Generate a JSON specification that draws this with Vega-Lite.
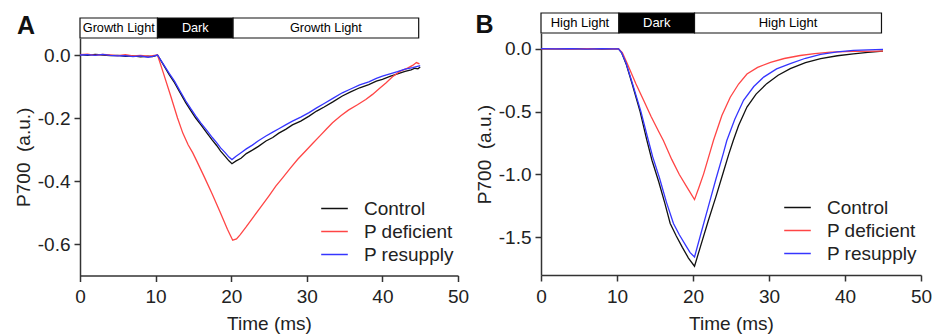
{
  "$schema": "https://vega.github.io/schema/vega-lite/v6.json",
  "padding": {"left": 14, "top": 12, "right": 0, "bottom": 0},
  "background": "white",
  "config": {
    "view": {"stroke": null},
    "font": "Liberation Sans",
    "axis": {
      "labelFont": "Liberation Sans", "labelFontSize": 19, "labelColor": "#222",
      "titleFont": "Liberation Sans", "titleFontSize": 19, "titleFontWeight": "normal", "titleColor": "#222",
      "domainColor": "#333", "domainWidth": 1.5, "tickColor": "#333", "tickWidth": 1.5, "tickSize": 6,
      "grid": false, "labelFlush": false
    },
    "title": {"font": "Liberation Sans", "fontSize": 25, "fontWeight": "bold", "color": "#111"}
  },
  "datasets": {
    "barsA": [
      {"start": 0, "end": 10.25, "label": "Growth Light", "phase": "light"},
      {"start": 10.25, "end": 20.25, "label": "Dark", "phase": "dark"},
      {"start": 20.25, "end": 44.8, "label": "Growth Light", "phase": "light"}
    ],
    "barsB": [
      {"start": 0, "end": 10.25, "label": "High Light", "phase": "light"},
      {"start": 10.25, "end": 20.2, "label": "Dark", "phase": "dark"},
      {"start": 20.2, "end": 44.8, "label": "High Light", "phase": "light"}
    ],
    "a": [
      {"s": "Control", "t": 0, "v": 0.001}, {"s": "Control", "t": 1, "v": -0.001}, {"s": "Control", "t": 2, "v": 0.002}, {"s": "Control", "t": 3, "v": 0.0}, {"s": "Control", "t": 4, "v": -0.002}, {"s": "Control", "t": 5, "v": -0.001}, {"s": "Control", "t": 6, "v": -0.004}, {"s": "Control", "t": 7, "v": -0.003}, {"s": "Control", "t": 8, "v": -0.006}, {"s": "Control", "t": 9, "v": -0.004}, {"s": "Control", "t": 9.6, "v": -0.005}, {"s": "Control", "t": 10.25, "v": 0.0}, {"s": "Control", "t": 11, "v": -0.03}, {"s": "Control", "t": 11.8, "v": -0.062}, {"s": "Control", "t": 12.5, "v": -0.088}, {"s": "Control", "t": 13.2, "v": -0.118}, {"s": "Control", "t": 14, "v": -0.152}, {"s": "Control", "t": 14.7, "v": -0.178}, {"s": "Control", "t": 15.3, "v": -0.2}, {"s": "Control", "t": 16, "v": -0.222}, {"s": "Control", "t": 16.8, "v": -0.248}, {"s": "Control", "t": 17.5, "v": -0.27}, {"s": "Control", "t": 18.1, "v": -0.288}, {"s": "Control", "t": 18.6, "v": -0.305}, {"s": "Control", "t": 19.2, "v": -0.322}, {"s": "Control", "t": 19.7, "v": -0.336}, {"s": "Control", "t": 20.1, "v": -0.345}, {"s": "Control", "t": 20.6, "v": -0.337}, {"s": "Control", "t": 21.3, "v": -0.328}, {"s": "Control", "t": 22, "v": -0.313}, {"s": "Control", "t": 22.8, "v": -0.302}, {"s": "Control", "t": 23.6, "v": -0.29}, {"s": "Control", "t": 24.6, "v": -0.273}, {"s": "Control", "t": 25.5, "v": -0.262}, {"s": "Control", "t": 26.3, "v": -0.248}, {"s": "Control", "t": 27.2, "v": -0.236}, {"s": "Control", "t": 28.1, "v": -0.222}, {"s": "Control", "t": 29.2, "v": -0.21}, {"s": "Control", "t": 30.3, "v": -0.194}, {"s": "Control", "t": 31.3, "v": -0.178}, {"s": "Control", "t": 32.3, "v": -0.165}, {"s": "Control", "t": 33.5, "v": -0.148}, {"s": "Control", "t": 34.7, "v": -0.13}, {"s": "Control", "t": 35.8, "v": -0.117}, {"s": "Control", "t": 37, "v": -0.104}, {"s": "Control", "t": 38.2, "v": -0.094}, {"s": "Control", "t": 39.2, "v": -0.083}, {"s": "Control", "t": 40, "v": -0.077}, {"s": "Control", "t": 41, "v": -0.068}, {"s": "Control", "t": 42, "v": -0.06}, {"s": "Control", "t": 43, "v": -0.052}, {"s": "Control", "t": 43.8, "v": -0.047}, {"s": "Control", "t": 44.3, "v": -0.042}, {"s": "Control", "t": 44.7, "v": -0.044}, {"s": "Control", "t": 45, "v": -0.038},
      {"s": "P deficient", "t": 0, "v": 0.001}, {"s": "P deficient", "t": 1, "v": 0.003}, {"s": "P deficient", "t": 2, "v": -0.001}, {"s": "P deficient", "t": 3, "v": 0.002}, {"s": "P deficient", "t": 4, "v": 0.0}, {"s": "P deficient", "t": 5, "v": -0.002}, {"s": "P deficient", "t": 6, "v": 0.001}, {"s": "P deficient", "t": 7, "v": -0.003}, {"s": "P deficient", "t": 8, "v": -0.001}, {"s": "P deficient", "t": 9, "v": -0.004}, {"s": "P deficient", "t": 9.6, "v": -0.002}, {"s": "P deficient", "t": 10.25, "v": 0.0}, {"s": "P deficient", "t": 11, "v": -0.055}, {"s": "P deficient", "t": 12, "v": -0.13}, {"s": "P deficient", "t": 12.9, "v": -0.2}, {"s": "P deficient", "t": 13.6, "v": -0.248}, {"s": "P deficient", "t": 14.3, "v": -0.285}, {"s": "P deficient", "t": 14.9, "v": -0.31}, {"s": "P deficient", "t": 15.45, "v": -0.337}, {"s": "P deficient", "t": 16.5, "v": -0.39}, {"s": "P deficient", "t": 17.5, "v": -0.442}, {"s": "P deficient", "t": 18.5, "v": -0.497}, {"s": "P deficient", "t": 19.5, "v": -0.553}, {"s": "P deficient", "t": 20.2, "v": -0.588}, {"s": "P deficient", "t": 20.7, "v": -0.584}, {"s": "P deficient", "t": 21.2, "v": -0.57}, {"s": "P deficient", "t": 22, "v": -0.545}, {"s": "P deficient", "t": 23, "v": -0.512}, {"s": "P deficient", "t": 24, "v": -0.48}, {"s": "P deficient", "t": 25, "v": -0.447}, {"s": "P deficient", "t": 25.9, "v": -0.416}, {"s": "P deficient", "t": 26.8, "v": -0.39}, {"s": "P deficient", "t": 27.8, "v": -0.36}, {"s": "P deficient", "t": 28.8, "v": -0.331}, {"s": "P deficient", "t": 29.9, "v": -0.303}, {"s": "P deficient", "t": 30.8, "v": -0.28}, {"s": "P deficient", "t": 31.8, "v": -0.255}, {"s": "P deficient", "t": 32.6, "v": -0.235}, {"s": "P deficient", "t": 33.4, "v": -0.215}, {"s": "P deficient", "t": 34.5, "v": -0.193}, {"s": "P deficient", "t": 35.5, "v": -0.175}, {"s": "P deficient", "t": 36.7, "v": -0.158}, {"s": "P deficient", "t": 37.8, "v": -0.141}, {"s": "P deficient", "t": 38.7, "v": -0.125}, {"s": "P deficient", "t": 39.6, "v": -0.106}, {"s": "P deficient", "t": 40.5, "v": -0.088}, {"s": "P deficient", "t": 41.3, "v": -0.07}, {"s": "P deficient", "t": 42.3, "v": -0.052}, {"s": "P deficient", "t": 43.2, "v": -0.043}, {"s": "P deficient", "t": 44, "v": -0.033}, {"s": "P deficient", "t": 44.5, "v": -0.024}, {"s": "P deficient", "t": 44.9, "v": -0.028},
      {"s": "P resupply", "t": 0, "v": 0.0}, {"s": "P resupply", "t": 1, "v": 0.001}, {"s": "P resupply", "t": 2, "v": -0.001}, {"s": "P resupply", "t": 3, "v": 0.002}, {"s": "P resupply", "t": 4, "v": -0.001}, {"s": "P resupply", "t": 5, "v": -0.003}, {"s": "P resupply", "t": 6, "v": -0.002}, {"s": "P resupply", "t": 7, "v": -0.005}, {"s": "P resupply", "t": 8, "v": -0.003}, {"s": "P resupply", "t": 9, "v": -0.007}, {"s": "P resupply", "t": 9.6, "v": -0.004}, {"s": "P resupply", "t": 10.25, "v": 0.0}, {"s": "P resupply", "t": 11, "v": -0.028}, {"s": "P resupply", "t": 11.8, "v": -0.058}, {"s": "P resupply", "t": 12.5, "v": -0.083}, {"s": "P resupply", "t": 13.2, "v": -0.113}, {"s": "P resupply", "t": 14, "v": -0.146}, {"s": "P resupply", "t": 14.7, "v": -0.172}, {"s": "P resupply", "t": 15.3, "v": -0.193}, {"s": "P resupply", "t": 16, "v": -0.216}, {"s": "P resupply", "t": 16.8, "v": -0.24}, {"s": "P resupply", "t": 17.5, "v": -0.262}, {"s": "P resupply", "t": 18.1, "v": -0.279}, {"s": "P resupply", "t": 18.6, "v": -0.295}, {"s": "P resupply", "t": 19.2, "v": -0.31}, {"s": "P resupply", "t": 19.7, "v": -0.324}, {"s": "P resupply", "t": 20.1, "v": -0.332}, {"s": "P resupply", "t": 20.6, "v": -0.322}, {"s": "P resupply", "t": 21.3, "v": -0.31}, {"s": "P resupply", "t": 22, "v": -0.298}, {"s": "P resupply", "t": 22.8, "v": -0.286}, {"s": "P resupply", "t": 23.6, "v": -0.272}, {"s": "P resupply", "t": 24.6, "v": -0.257}, {"s": "P resupply", "t": 25.5, "v": -0.245}, {"s": "P resupply", "t": 26.3, "v": -0.234}, {"s": "P resupply", "t": 27.2, "v": -0.222}, {"s": "P resupply", "t": 28.1, "v": -0.21}, {"s": "P resupply", "t": 29.2, "v": -0.197}, {"s": "P resupply", "t": 30.3, "v": -0.183}, {"s": "P resupply", "t": 31.3, "v": -0.168}, {"s": "P resupply", "t": 32.3, "v": -0.154}, {"s": "P resupply", "t": 33.5, "v": -0.137}, {"s": "P resupply", "t": 34.7, "v": -0.12}, {"s": "P resupply", "t": 35.8, "v": -0.108}, {"s": "P resupply", "t": 37, "v": -0.095}, {"s": "P resupply", "t": 38.2, "v": -0.085}, {"s": "P resupply", "t": 39.2, "v": -0.074}, {"s": "P resupply", "t": 40, "v": -0.067}, {"s": "P resupply", "t": 41, "v": -0.06}, {"s": "P resupply", "t": 42, "v": -0.053}, {"s": "P resupply", "t": 43, "v": -0.045}, {"s": "P resupply", "t": 44, "v": -0.04}, {"s": "P resupply", "t": 45, "v": -0.034}
    ],
    "b": [
      {"s": "Control", "t": 0, "v": 0}, {"s": "Control", "t": 2, "v": 0.002}, {"s": "Control", "t": 4, "v": -0.001}, {"s": "Control", "t": 6, "v": 0.001}, {"s": "Control", "t": 8, "v": -0.002}, {"s": "Control", "t": 9.5, "v": 0}, {"s": "Control", "t": 10.2, "v": 0}, {"s": "Control", "t": 10.6, "v": -0.03}, {"s": "Control", "t": 11.2, "v": -0.12}, {"s": "Control", "t": 12, "v": -0.28}, {"s": "Control", "t": 13.04, "v": -0.5}, {"s": "Control", "t": 13.9, "v": -0.72}, {"s": "Control", "t": 14.6, "v": -0.887}, {"s": "Control", "t": 15.5, "v": -1.06}, {"s": "Control", "t": 16.3, "v": -1.23}, {"s": "Control", "t": 17, "v": -1.39}, {"s": "Control", "t": 17.8, "v": -1.49}, {"s": "Control", "t": 18.6, "v": -1.58}, {"s": "Control", "t": 19.4, "v": -1.665}, {"s": "Control", "t": 20.2, "v": -1.73}, {"s": "Control", "t": 21, "v": -1.57}, {"s": "Control", "t": 22, "v": -1.37}, {"s": "Control", "t": 23, "v": -1.18}, {"s": "Control", "t": 24, "v": -0.98}, {"s": "Control", "t": 24.7, "v": -0.84}, {"s": "Control", "t": 25.3, "v": -0.73}, {"s": "Control", "t": 26, "v": -0.61}, {"s": "Control", "t": 27.1, "v": -0.463}, {"s": "Control", "t": 28.3, "v": -0.36}, {"s": "Control", "t": 29.7, "v": -0.277}, {"s": "Control", "t": 31.2, "v": -0.21}, {"s": "Control", "t": 32.8, "v": -0.158}, {"s": "Control", "t": 34.8, "v": -0.11}, {"s": "Control", "t": 36.8, "v": -0.078}, {"s": "Control", "t": 39, "v": -0.055}, {"s": "Control", "t": 41.1, "v": -0.04}, {"s": "Control", "t": 43, "v": -0.028}, {"s": "Control", "t": 45, "v": -0.018},
      {"s": "P deficient", "t": 0, "v": 0}, {"s": "P deficient", "t": 2, "v": 0.001}, {"s": "P deficient", "t": 4, "v": -0.002}, {"s": "P deficient", "t": 6, "v": 0.002}, {"s": "P deficient", "t": 8, "v": -0.001}, {"s": "P deficient", "t": 9.5, "v": 0.001}, {"s": "P deficient", "t": 10.2, "v": 0}, {"s": "P deficient", "t": 10.7, "v": -0.03}, {"s": "P deficient", "t": 11.3, "v": -0.11}, {"s": "P deficient", "t": 12.5, "v": -0.28}, {"s": "P deficient", "t": 13.5, "v": -0.41}, {"s": "P deficient", "t": 14.5, "v": -0.54}, {"s": "P deficient", "t": 15.5, "v": -0.66}, {"s": "P deficient", "t": 16.1, "v": -0.73}, {"s": "P deficient", "t": 17.2, "v": -0.88}, {"s": "P deficient", "t": 18.2, "v": -1.0}, {"s": "P deficient", "t": 19.2, "v": -1.1}, {"s": "P deficient", "t": 20.2, "v": -1.2}, {"s": "P deficient", "t": 20.8, "v": -1.1}, {"s": "P deficient", "t": 21.4, "v": -0.995}, {"s": "P deficient", "t": 22.3, "v": -0.81}, {"s": "P deficient", "t": 22.7, "v": -0.728}, {"s": "P deficient", "t": 23.8, "v": -0.53}, {"s": "P deficient", "t": 24.9, "v": -0.385}, {"s": "P deficient", "t": 26, "v": -0.28}, {"s": "P deficient", "t": 27.1, "v": -0.2}, {"s": "P deficient", "t": 28.5, "v": -0.148}, {"s": "P deficient", "t": 30.2, "v": -0.107}, {"s": "P deficient", "t": 32, "v": -0.077}, {"s": "P deficient", "t": 34.1, "v": -0.053}, {"s": "P deficient", "t": 36, "v": -0.038}, {"s": "P deficient", "t": 38.1, "v": -0.026}, {"s": "P deficient", "t": 41, "v": -0.02}, {"s": "P deficient", "t": 45, "v": -0.018},
      {"s": "P resupply", "t": 0, "v": 0.001}, {"s": "P resupply", "t": 2, "v": -0.001}, {"s": "P resupply", "t": 4, "v": 0.002}, {"s": "P resupply", "t": 6, "v": -0.002}, {"s": "P resupply", "t": 8, "v": 0.001}, {"s": "P resupply", "t": 9.5, "v": -0.001}, {"s": "P resupply", "t": 10.2, "v": 0}, {"s": "P resupply", "t": 10.6, "v": -0.03}, {"s": "P resupply", "t": 11.2, "v": -0.115}, {"s": "P resupply", "t": 12, "v": -0.27}, {"s": "P resupply", "t": 13.15, "v": -0.5}, {"s": "P resupply", "t": 14, "v": -0.7}, {"s": "P resupply", "t": 14.7, "v": -0.86}, {"s": "P resupply", "t": 15.6, "v": -1.03}, {"s": "P resupply", "t": 16.5, "v": -1.22}, {"s": "P resupply", "t": 17.43, "v": -1.39}, {"s": "P resupply", "t": 18.2, "v": -1.48}, {"s": "P resupply", "t": 19, "v": -1.56}, {"s": "P resupply", "t": 19.6, "v": -1.62}, {"s": "P resupply", "t": 20.2, "v": -1.657}, {"s": "P resupply", "t": 21, "v": -1.48}, {"s": "P resupply", "t": 22, "v": -1.26}, {"s": "P resupply", "t": 23, "v": -1.04}, {"s": "P resupply", "t": 24, "v": -0.83}, {"s": "P resupply", "t": 24.45, "v": -0.73}, {"s": "P resupply", "t": 25.5, "v": -0.56}, {"s": "P resupply", "t": 26.65, "v": -0.41}, {"s": "P resupply", "t": 28, "v": -0.3}, {"s": "P resupply", "t": 29.3, "v": -0.225}, {"s": "P resupply", "t": 31, "v": -0.16}, {"s": "P resupply", "t": 32.8, "v": -0.118}, {"s": "P resupply", "t": 34.8, "v": -0.075}, {"s": "P resupply", "t": 36.8, "v": -0.044}, {"s": "P resupply", "t": 39, "v": -0.025}, {"s": "P resupply", "t": 41.1, "v": -0.012}, {"s": "P resupply", "t": 43, "v": -0.008}, {"s": "P resupply", "t": 45, "v": -0.005}
    ]
  },
  "spacing": 6,
  "resolve": {"scale": {"color": "independent"}, "legend": {"color": "independent"}},
  "hconcat": [
    {
      "bounds": "flush",
      "spacing": 0,
      "resolve": {"scale": {"color": "independent"}},
      "vconcat": [
        {"width": 378, "height": 4.6, "data": {"values": []}, "mark": {"type": "point", "opacity": 0}, "encoding": {}},
        {
          "width": 378, "height": 20,
          "title": {"text": "A", "anchor": "start", "frame": "group", "offset": 0, "baseline": "alphabetic", "dx": -63, "dy": 42},
          "data": {"name": "barsA"},
          "layer": [
            {"mark": {"type": "rect", "stroke": "#111", "strokeWidth": 1.2},
             "encoding": {
               "x": {"field": "start", "type": "quantitative", "scale": {"domain": [0, 50], "nice": false}, "axis": null},
               "x2": {"field": "end"},
               "fill": {"field": "phase", "type": "nominal", "scale": {"domain": ["light", "dark"], "range": ["white", "black"]}, "legend": null}
             }},
            {"transform": [{"calculate": "(datum.start + datum.end) / 2", "as": "mid"}],
             "mark": {"type": "text", "fontSize": 12.7, "font": "Liberation Sans"},
             "encoding": {
               "x": {"field": "mid", "type": "quantitative"},
               "text": {"field": "label"},
               "fill": {"condition": {"test": "datum.phase === 'dark'", "value": "white"}, "value": "black"}
             }}
          ]
        },
        {
          "width": 378, "height": 237.5,
          "data": {"name": "a"},
          "mark": {"type": "line", "strokeWidth": 1.3},
          "encoding": {
            "x": {"field": "t", "type": "quantitative", "scale": {"domain": [0, 50], "nice": false},
                  "axis": {"values": [0, 10, 20, 30, 40, 50], "title": "Time (ms)", "labelPadding": 6, "titlePadding": 8}},
            "y": {"field": "v", "type": "quantitative", "scale": {"domain": [-0.7, 0.054], "nice": false, "zero": false},
                  "axis": {"values": [0, -0.2, -0.4, -0.6], "labelExpr": "replace(format(datum.value, '.1f'), '−', '-')", "title": "P700\u00a0\u00a0(a.u.)", "labelPadding": 4, "titlePadding": 4}},
            "color": {"field": "s", "type": "nominal",
                      "scale": {"domain": ["Control", "P deficient", "P resupply"], "range": ["#111111", "#ff4545", "#3535ff"]},
                      "legend": {"orient": "bottom-right", "title": " ", "titleOrient": "bottom", "titleFontSize": 1, "titlePadding": 6,
                                 "offset": 4, "padding": 0,
                                 "symbolType": "M-1.4,0L1.4,0", "symbolSize": 361, "symbolStrokeWidth": 1.5,
                                 "labelFont": "Liberation Sans", "labelFontSize": 19, "labelColor": "#222",
                                 "labelOffset": 19, "rowPadding": 2}}
          }
        }
      ]
    },
    {
      "bounds": "flush",
      "spacing": 0,
      "resolve": {"scale": {"color": "independent"}},
      "vconcat": [
        {
          "width": 380, "height": 20,
          "title": {"text": "B", "anchor": "start", "frame": "group", "offset": 0, "baseline": "alphabetic", "dx": -65.5, "dy": 45.6},
          "data": {"name": "barsB"},
          "layer": [
            {"mark": {"type": "rect", "stroke": "#111", "strokeWidth": 1.2},
             "encoding": {
               "x": {"field": "start", "type": "quantitative", "scale": {"domain": [0, 50], "nice": false}, "axis": null},
               "x2": {"field": "end"},
               "fill": {"field": "phase", "type": "nominal", "scale": {"domain": ["light", "dark"], "range": ["white", "black"]}, "legend": null}
             }},
            {"transform": [{"calculate": "(datum.start + datum.end) / 2", "as": "mid"}],
             "mark": {"type": "text", "fontSize": 13, "font": "Liberation Sans"},
             "encoding": {
               "x": {"field": "mid", "type": "quantitative"},
               "text": {"field": "label"},
               "fill": {"condition": {"test": "datum.phase === 'dark'", "value": "white"}, "value": "black"}
             }}
          ]
        },
        {
          "width": 380, "height": 242,
          "data": {"name": "b"},
          "mark": {"type": "line", "strokeWidth": 1.3},
          "encoding": {
            "x": {"field": "t", "type": "quantitative", "scale": {"domain": [0, 50], "nice": false},
                  "axis": {"values": [0, 10, 20, 30, 40, 50], "title": "Time (ms)", "labelPadding": 6, "titlePadding": 8}},
            "y": {"field": "v", "type": "quantitative", "scale": {"domain": [-1.8, 0.126], "nice": false, "zero": false},
                  "axis": {"values": [0, -0.5, -1.0, -1.5], "labelExpr": "replace(format(datum.value, '.1f'), '−', '-')", "title": "P700\u00a0\u00a0(a.u.)", "labelPadding": 4, "titlePadding": 4}},
            "color": {"field": "s", "type": "nominal",
                      "scale": {"domain": ["Control", "P deficient", "P resupply"], "range": ["#111111", "#ff4545", "#3535ff"]},
                      "legend": {"orient": "bottom-right", "title": " ", "titleOrient": "bottom", "titleFontSize": 1, "titlePadding": 6,
                                 "offset": 4, "padding": 0,
                                 "symbolType": "M-1.4,0L1.4,0", "symbolSize": 361, "symbolStrokeWidth": 1.5,
                                 "labelFont": "Liberation Sans", "labelFontSize": 19, "labelColor": "#222",
                                 "labelOffset": 19, "rowPadding": 2}}
          }
        }
      ]
    }
  ]
}
